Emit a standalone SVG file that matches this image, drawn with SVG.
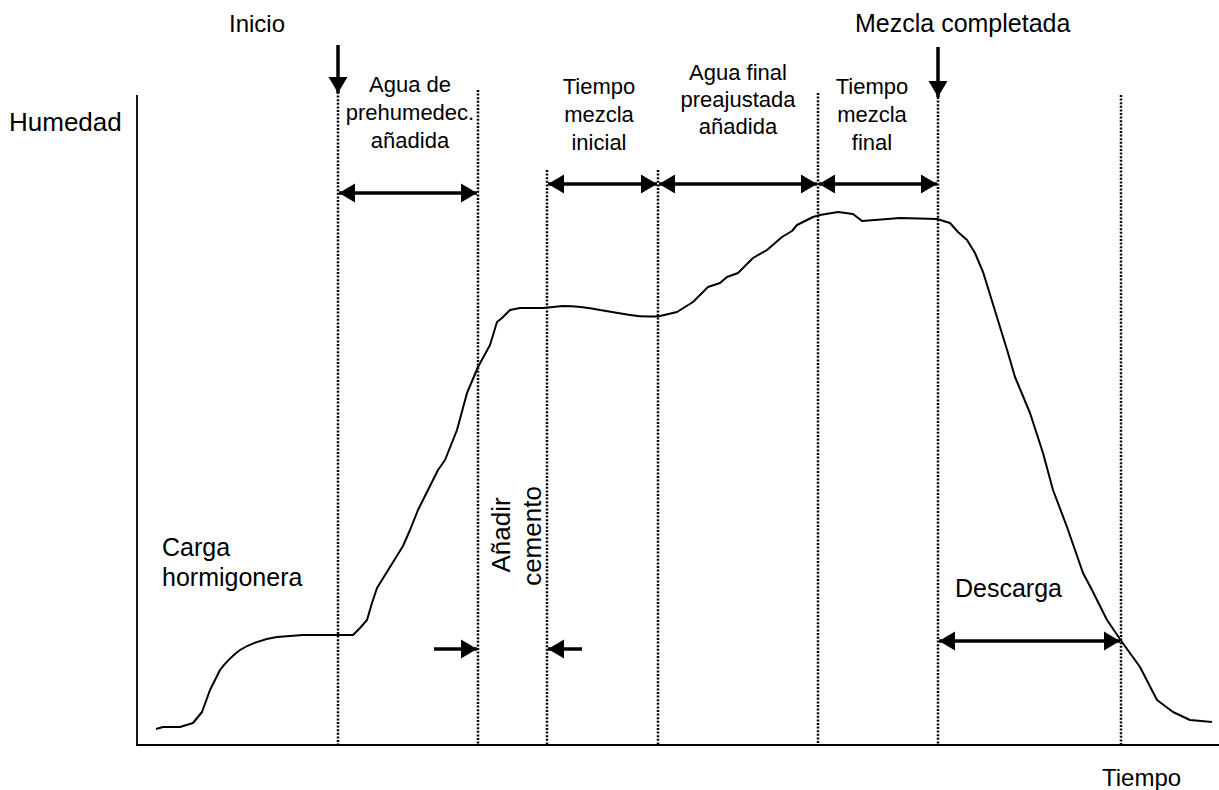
<svg xmlns="http://www.w3.org/2000/svg" width="1219" height="790" viewBox="0 0 1219 790">
<style>
text{font-family:"Liberation Sans",Arial,sans-serif;fill:#000}
.lbl{font-size:24px}
.blk{font-size:22px;text-anchor:middle}
.dot{stroke:#000;stroke-width:2.5;stroke-dasharray:2 1.6;fill:none}
.arr{stroke:#000;stroke-width:3.5;fill:none}
.axis{stroke:#000;stroke-width:1.8;fill:none}
</style>
<defs>
<marker id="ah" markerUnits="userSpaceOnUse" markerWidth="17" markerHeight="20" refX="16" refY="10" orient="auto-start-reverse" viewBox="0 0 17 20">
<path d="M0,0.5 L16,10 L0,19.5 z" fill="#000"/>
</marker>
</defs>
<rect width="1219" height="790" fill="#fff"/>
<g id="axes">
<path class="axis" d="M137,95 V745 H1219"/>
</g>
<g id="guides">
<path class="dot" d="M338,92 V745"/>
<path class="dot" d="M478,90 V745"/>
<path class="dot" d="M547,170 V745"/>
<path class="dot" d="M658,170 V745"/>
<path class="dot" d="M818,93 V745"/>
<path class="dot" d="M938,97 V745"/>
<path class="dot" d="M1121,95 V745"/>
</g>
<g id="curve">
<path d="M156,729 L163,727 L180,727 L193,723 L202,712 L210,690 L220,670 C226,662 232,656 240,650 C250,644 262,639 277,637 L303,635 L353,635 L360,628 L367,620 L372,603 L377,588 L390,567 L403,546 L410,530 L418,510 L428,490 L438,470 L445,460 L457,430 L467,393 L478,367 L490,345 L497,322 L502,318 L510,310 L520,308 L543,308 L563,306 C575,306 585,307 600,310 L630,315 C640,316.5 650,317 660,316 L677,312 L693,302 L708,287 L720,283 L727,277 L738,273 L753,258 L767,250 L782,237 L792,231 L797,225 L803,222 L813,217 L820,215 L838,212 L853,214 L862,221 L900,218 L937,219 L950,223 L958,232 L967,240 L975,253 L983,272 L988,288 L1000,327 L1008,353 L1015,377 L1030,413 L1043,453 L1053,490 L1067,527 L1083,573 L1092,590 L1107,620 L1122,642 L1140,667 L1157,700 L1173,712 L1190,720 L1212,722" fill="none" stroke="#000" stroke-width="2" stroke-linejoin="round"/>
</g>
<g id="connectors">
<path class="arr" d="M338,45 V93" marker-end="url(#ah)"/>
<path class="arr" d="M938,47 V97" marker-end="url(#ah)"/>
<path class="arr" d="M339,193 H477" marker-start="url(#ah)" marker-end="url(#ah)"/>
<path class="arr" d="M548,184 H657" marker-start="url(#ah)" marker-end="url(#ah)"/>
<path class="arr" d="M659,184 H817" marker-start="url(#ah)" marker-end="url(#ah)"/>
<path class="arr" d="M819,184 H937" marker-start="url(#ah)" marker-end="url(#ah)"/>
<path class="arr" d="M939,641 H1120" marker-start="url(#ah)" marker-end="url(#ah)"/>
<path class="arr" d="M434,649 H477" marker-end="url(#ah)"/>
<path class="arr" d="M582,649 H548" marker-end="url(#ah)"/>
</g>
<g id="label-inicio"><text class="lbl" x="229" y="32">Inicio</text></g>
<g id="label-mezcla-completada"><text style="font-size:25px" x="855" y="32">Mezcla completada</text></g>
<g id="label-humedad"><text style="font-size:26px" x="9" y="131">Humedad</text></g>
<g id="label-tiempo"><text style="font-size:24px" x="1102" y="786">Tiempo</text></g>
<g id="label-agua-prehum">
<text class="blk" x="410" y="92">Agua de</text>
<text class="blk" x="410" y="120">prehumedec.</text>
<text class="blk" x="410" y="148">añadida</text>
</g>
<g id="label-tiempo-inicial">
<text class="blk" x="599" y="94">Tiempo</text>
<text class="blk" x="599" y="122">mezcla</text>
<text class="blk" x="599" y="150">inicial</text>
</g>
<g id="label-agua-final">
<text class="blk" x="738" y="80">Agua final</text>
<text class="blk" x="738" y="107">preajustada</text>
<text class="blk" x="738" y="134">añadida</text>
</g>
<g id="label-tiempo-final">
<text class="blk" x="872" y="94">Tiempo</text>
<text class="blk" x="872" y="122">mezcla</text>
<text class="blk" x="872" y="150">final</text>
</g>
<g id="label-carga">
<text style="font-size:25px" x="162" y="556">Carga</text>
<text style="font-size:25px" x="162" y="586">hormigonera</text>
</g>
<g id="label-cemento">
<text style="font-size:26px;text-anchor:middle" transform="translate(510,535) rotate(-90)">Añadir</text>
<text style="font-size:26px;text-anchor:middle" transform="translate(541,536) rotate(-90)">cemento</text>
</g>
<g id="label-descarga"><text style="font-size:25px" x="955" y="597">Descarga</text></g>
</svg>
